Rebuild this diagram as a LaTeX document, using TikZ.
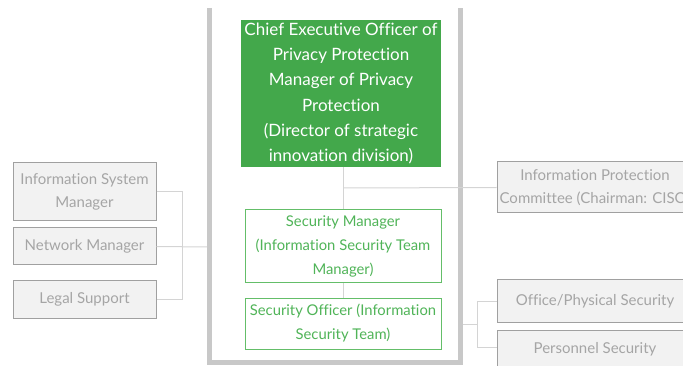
\documentclass[tikz,border=0pt]{standalone}
\usepackage{fontspec}
\setmainfont{Lato}[Ligatures=NoCommon]
\definecolor{gfill}{RGB}{67,168,75}
\definecolor{gline}{RGB}{100,190,105}
\definecolor{gtext}{RGB}{80,180,88}
\definecolor{bfill}{RGB}{242,242,242}
\definecolor{bdraw}{RGB}{160,160,160}
\definecolor{btext}{RGB}{165,165,165}
\definecolor{bar}{RGB}{200,200,200}
\definecolor{conn}{RGB}{212,212,212}
\tikzset{
  mainbox/.style={fill=gfill, draw=none, text=white, align=center, inner sep=0pt,
    font=\fontsize{17}{25.2}\selectfont},
  greenbox/.style={fill=white, draw=gline, line width=1pt, text=gtext, align=center, inner sep=0pt,
    font=\fontsize{14.8}{24}\selectfont},
  graybox/.style={fill=bfill, draw=bdraw, line width=1pt, text=btext, align=center, inner sep=0pt,
    font=\fontsize{15}{23.5}\selectfont},
  barline/.style={draw=bar, line width=5pt},
  conline/.style={draw=conn, line width=1pt}
}
\begin{document}
\begin{tikzpicture}[x=1pt,y=-1pt]
\useasboundingbox (0,0) rectangle (683,366);
\clip (0,0) rectangle (683,366);
% frame
\draw[barline] (209.5,8) -- (209.5,362.5) -- (460.5,362.5) -- (460.5,8);
% nodes
\node[mainbox, minimum width=200pt, minimum height=147pt] (ceo) at (341,93.5)
  {Chief Executive Officer of\\Privacy Protection\\Manager of Privacy\\Protection\\(Director of strategic\\innovation division)};
\node[greenbox, minimum width=196pt, minimum height=73pt] (sm) at (343,246.5)
  {Security Manager\\(Information Security Team\\Manager)};
\node[greenbox, minimum width=196pt, minimum height=51pt] (so) at (343,323.5)
  {Security Officer (Information\\Security Team)};
\node[graybox, minimum width=196pt, minimum height=51pt] (ipc) at (595,187.5)
  {Information Protection\\Committee (Chairman: CISO)};
\node[graybox, minimum width=196pt, minimum height=42pt] (ops) at (595,301)
  {Office/Physical Security};
\node[graybox, minimum width=196pt, minimum height=38pt] (ps) at (595,349)
  {Personnel Security};
\node[graybox, minimum width=143pt, minimum height=58pt] (ism) at (84.5,192)
  {Information System\\Manager};
\node[graybox, minimum width=143pt, minimum height=37pt] (nm) at (84.5,246.5)
  {Network Manager};
\node[graybox, minimum width=143pt, minimum height=37pt] (ls) at (84.5,299.5)
  {Legal Support};
% free ends
\coordinate (rb) at (463,324);
\coordinate (lb) at (207,247);
% connectors
\draw[conline] (ceo.south -| sm.north) -- (sm.north);
\draw[conline] (343,188) -- (ipc.west);
\draw[conline] (sm.south) -- (so.north);
\draw[conline] (rb) -- (477,324);
\draw[conline] (ops.west) -- (477,301) -- (477,347) -- (ps.west |- 0,347);
\draw[conline] (ism.east) -- (182,192) -- (182,299.5) -- (ls.east);
\draw[conline] (nm.east) -- (lb);
\end{tikzpicture}
\end{document}
